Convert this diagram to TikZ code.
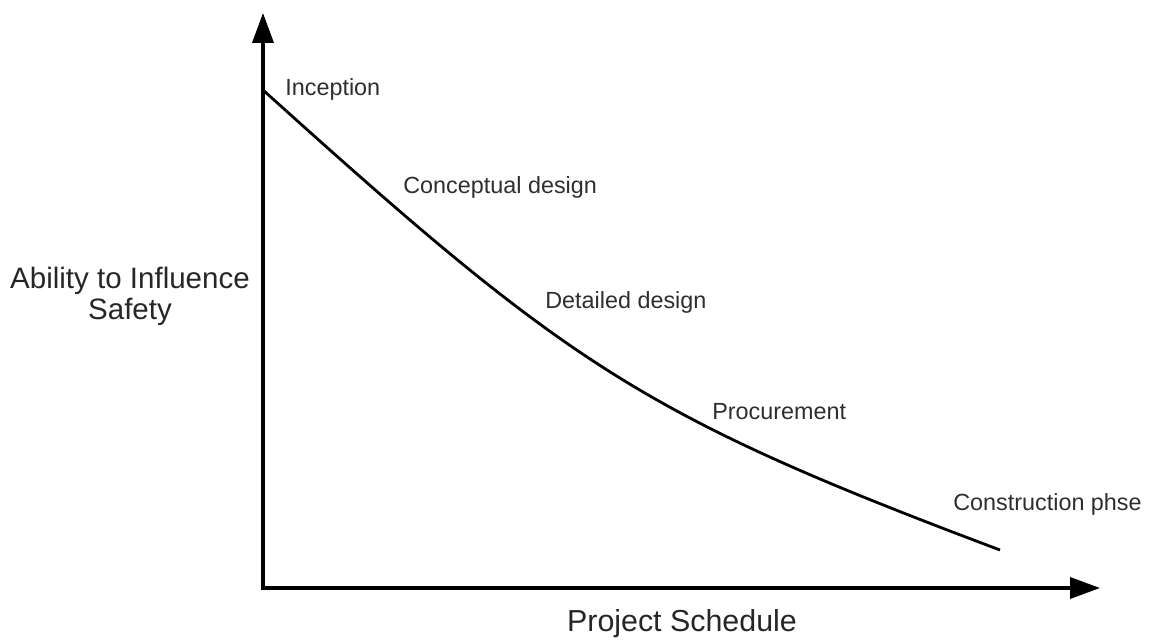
\documentclass[tikz,border=0pt]{standalone}
\usepackage{fontspec}
\setmainfont{Liberation Sans}
\usetikzlibrary{arrows.meta}

\tikzset{
    axis/.style={line width=1.8pt, -{Triangle[length=17pt,width=12pt]}},
    phase/.style={anchor=base west, inner sep=0pt, text=black!82, font=\fontsize{13.3}{16}\selectfont},
    axislabel/.style={text=black!85, font=\fontsize{16.8}{18}\selectfont, align=center}
}

\begin{document}
\begin{tikzpicture}[x=0.02cm, y=-0.02cm]
    \useasboundingbox (0, 0) rectangle (1150, 641);
    \coordinate (O) at (263, 588);
    \coordinate (ytop) at (263, 13);
    \coordinate (xend) at (1100, 588);
    \coordinate (cstart) at (263, 90);
    \coordinate (cend) at (1000, 550);

    \draw[axis] ([yshift=-0.9pt]O) -- (ytop);
    \draw[axis] ([xshift=-0.9pt]O) -- (xend);
    \draw[line width=1.6pt] (cstart) .. controls (569, 366) and (641, 415) .. (cend);

    \node[phase] (inception) at (285, 96) {Inception};
    \node[phase] (concept) at (403, 194) {Conceptual design};
    \node[phase] (detail) at (545, 309) {Detailed design};
    \node[phase] (procure) at (712, 420) {Procurement};
    \node[phase] (construct) at (953, 511) {Construction phse};

    \node[axislabel, anchor=base] (ylabel) at (130, 320) {Ability to Influence\\Safety};
    \node[axislabel, anchor=base, font=\fontsize{17.3}{19}\selectfont] (xlabel) at (682, 632) {Project Schedule};
\end{tikzpicture}
\end{document}
